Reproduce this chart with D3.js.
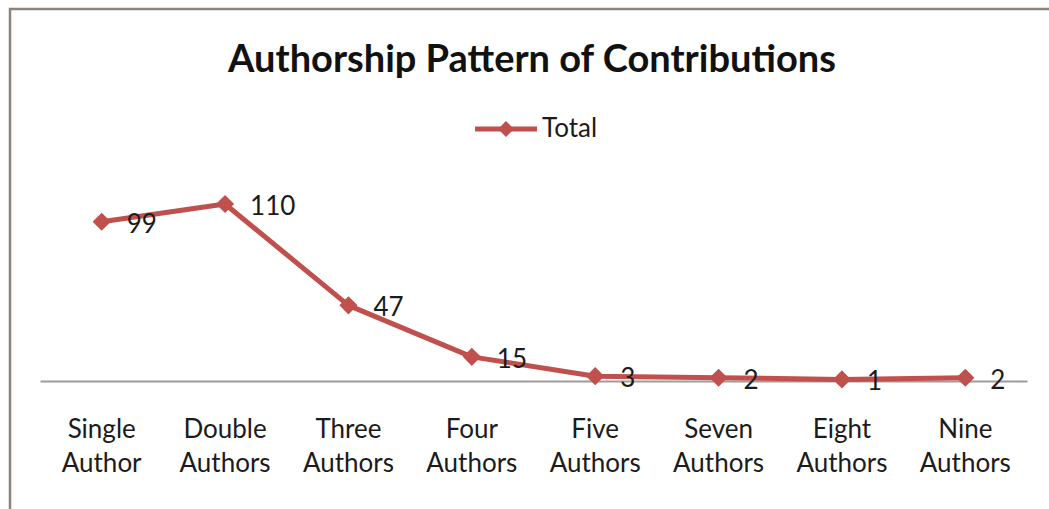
<!DOCTYPE html>
<html>
<head>
<meta charset="utf-8">
<script src="https://cdn.jsdelivr.net/npm/d3@7"></script>
<style>
  html, body { margin: 0; padding: 0; background: #fff; }
  svg { display: block; }
  text { font-family: Lato, "Open Sans", "Noto Sans", sans-serif; fill: #1b1b1b; }
</style>
</head>
<body>
<svg id="chart" width="1049" height="509"></svg>
<script>
// Number of contributions by count of authors
const categories = [
  ["Single", "Author"],
  ["Double", "Authors"],
  ["Three", "Authors"],
  ["Four", "Authors"],
  ["Five", "Authors"],
  ["Seven", "Authors"],
  ["Eight", "Authors"],
  ["Nine", "Authors"]
];
const totals = [99, 110, 47, 15, 3, 2, 1, 2];
const seriesName = "Total";
const titleText = "Authorship Pattern of Contributions";

const W = 1049, H = 509;
const lineColor = "#c0504d";
const svg = d3.select("#chart");

// chart area frame (left and top edges visible)
svg.append("rect")
  .attr("x", 10).attr("y", 9)
  .attr("width", W + 20).attr("height", H + 20)
  .attr("fill", "#fff")
  .attr("stroke", "#8c847c").attr("stroke-width", 2.5);

const plot = { left: 40, right: 1027, top: 150, bottom: 381 };

const x = d3.scaleBand()
  .domain(d3.range(categories.length))
  .range([plot.left, plot.right]);

const y = d3.scaleLinear()
  .domain([0, 110])
  .range([plot.bottom, 204]);

// title
svg.append("text")
  .attr("x", 532).attr("y", 72)
  .attr("text-anchor", "middle")
  .attr("font-size", 38)
  .attr("font-weight", "bold")
  .style("fill", "#111")
  .text(titleText);

// legend
const legend = svg.append("g").attr("transform", "translate(475,129)");
legend.append("line")
  .attr("x1", 0).attr("x2", 62).attr("y1", 0).attr("y2", 0)
  .attr("stroke", lineColor).attr("stroke-width", 5);
legend.append("path")
  .attr("transform", "translate(31,0)")
  .attr("d", d3.symbol(d3.symbolDiamond2, 160)())
  .attr("fill", lineColor);
legend.append("text")
  .attr("x", 67).attr("y", 8)
  .attr("font-size", 26)
  .text(seriesName);

// category axis
const xAxis = d3.axisBottom(x).tickSize(0).tickFormat("");
const axisG = svg.append("g")
  .attr("transform", `translate(0,${plot.bottom})`)
  .call(xAxis);
axisG.select(".domain").attr("stroke", "#a09c98").attr("stroke-width", 2);

const labels = svg.append("g");
categories.forEach((lines, i) => {
  const t = labels.append("text")
    .attr("x", x(i) + x.bandwidth() / 2)
    .attr("y", 438)
    .attr("text-anchor", "middle")
    .attr("font-size", 26);
  lines.forEach((ln, j) => {
    t.append("tspan")
      .attr("x", x(i) + x.bandwidth() / 2)
      .attr("dy", j === 0 ? 0 : 34)
      .text(ln);
  });
});

// series line
const cx = i => x(i) + x.bandwidth() / 2;
const line = d3.line()
  .x((d, i) => cx(i))
  .y(d => y(d));

svg.append("path")
  .datum(totals)
  .attr("d", line)
  .attr("fill", "none")
  .attr("stroke", lineColor)
  .attr("stroke-width", 5)
  .attr("stroke-linejoin", "round");

svg.append("g").selectAll("path")
  .data(totals)
  .join("path")
  .attr("transform", (d, i) => `translate(${cx(i)},${y(d)})`)
  .attr("d", d3.symbol(d3.symbolDiamond2, 210)())
  .attr("fill", lineColor);

// data labels to the right of each point
svg.append("g").selectAll("text")
  .data(totals)
  .join("text")
  .attr("x", (d, i) => cx(i) + 25)
  .attr("y", d => y(d) + 11)
  .attr("font-size", 26)
  .text(d => d);
</script>
</body>
</html>
